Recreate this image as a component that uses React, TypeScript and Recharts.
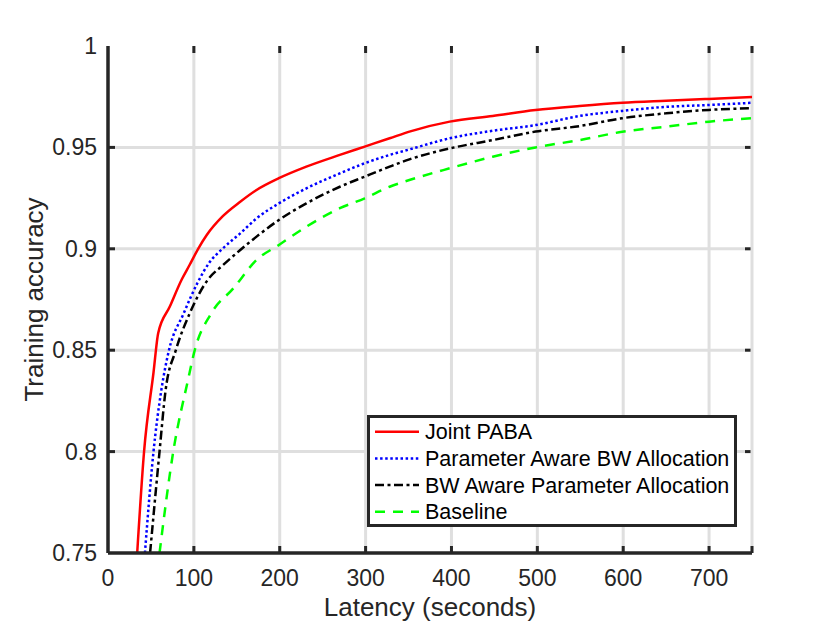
import { LineChart, Line, XAxis, YAxis, CartesianGrid, Legend, Label } from 'recharts';

// latency (s) / training accuracy
const jointX = [34, 42, 53, 58.5, 72, 86, 95, 105, 115, 134, 154, 173, 199, 231, 270, 299, 328, 351, 398, 448, 498, 549, 599, 650, 700, 750];
const jointY = [0.75, 0.8, 0.839, 0.8585, 0.8715, 0.885, 0.892, 0.9, 0.9068, 0.9162, 0.9232, 0.929, 0.9348, 0.9405, 0.9463, 0.9504, 0.9545, 0.9578, 0.9627, 0.9655, 0.9684, 0.9704, 0.972, 0.973, 0.9739, 0.9748];

const paramAwareX = [43, 53, 62, 71, 88, 104, 118, 134, 154, 173, 199, 231, 270, 299, 328, 351, 398, 448, 498, 549, 599, 650, 700, 750];
const paramAwareY = [0.75, 0.8, 0.83, 0.85, 0.868, 0.883, 0.8932, 0.9003, 0.9076, 0.915, 0.9224, 0.9298, 0.9372, 0.9422, 0.9463, 0.949, 0.9545, 0.9582, 0.961, 0.9655, 0.968, 0.97, 0.9709, 0.972];

const bwAwareX = [49, 60, 67, 79, 95, 116, 134, 154, 173, 199, 231, 270, 299, 328, 351, 398, 448, 498, 549, 599, 650, 700, 750];
const bwAwareY = [0.75, 0.8, 0.83, 0.85, 0.868, 0.8846, 0.892, 0.8994, 0.906, 0.9142, 0.9224, 0.9306, 0.9356, 0.9405, 0.9441, 0.9495, 0.9536, 0.9578, 0.9605, 0.9644, 0.9668, 0.9685, 0.9693];

const baselineX = [60, 76, 93, 101, 120, 146, 173, 199, 231, 270, 299, 328, 351, 398, 448, 498, 549, 599, 650, 700, 750];
const baselineY = [0.75, 0.8, 0.835, 0.85, 0.868, 0.8805, 0.8945, 0.9019, 0.9109, 0.92, 0.9249, 0.9306, 0.9339, 0.9397, 0.9454, 0.95, 0.9536, 0.9577, 0.9602, 0.9627, 0.9644];

const xTicks = [0, 100, 200, 300, 400, 500, 600, 700];
const yTicks = [0.75, 0.8, 0.85, 0.9, 0.95, 1];

const toPoints = (xs: number[], ys: number[]) => xs.map((x, i) => ({ x, y: ys[i] }));

const series = [
  { name: 'Joint PABA', data: toPoints(jointX, jointY), color: '#ff0000', dash: undefined },
  { name: 'Parameter Aware BW Allocation', data: toPoints(paramAwareX, paramAwareY), color: '#0000ff', dash: '2.5 2.6' },
  { name: 'BW Aware Parameter Allocation', data: toPoints(bwAwareX, bwAwareY), color: '#000000', dash: '9 3.5 3 3.5' },
  { name: 'Baseline', data: toPoints(baselineX, baselineY), color: '#00ff00', dash: '10 8' },
];

const FONT = '"Liberation Sans", Arial, Helvetica, sans-serif';
const AXIS = '#262626';
const GRID = '#dfdfdf';
const TICK_LEN = 7;

// the grid sits above the axes here, so the inward tick stubs are drawn with each grid line
const HGridLine = (props: any) => {
  const { x1, x2, y1, index } = props;
  if (index === 0 || index === yTicks.length - 1) return <g />;
  return (
    <g>
      <line x1={x1} x2={x2} y1={y1} y2={y1} stroke={GRID} strokeWidth={3} />
      <line x1={x1} x2={x1 + TICK_LEN} y1={y1} y2={y1} stroke={AXIS} strokeWidth={3} />
      <line x1={x2 - TICK_LEN} x2={x2} y1={y1} y2={y1} stroke={AXIS} strokeWidth={3} />
    </g>
  );
};

const VGridLine = (props: any) => {
  const { x1, y1, y2, index } = props;
  if (index === 0) return <g />;
  return (
    <g>
      <line x1={x1} x2={x1} y1={y1} y2={y2} stroke={GRID} strokeWidth={3} />
      <line x1={x1} x2={x1} y1={y1} y2={y1 + TICK_LEN} stroke={AXIS} strokeWidth={3} />
      <line x1={x1} x2={x1} y1={y2 - TICK_LEN} y2={y2} stroke={AXIS} strokeWidth={3} />
    </g>
  );
};

const BottomTick = ({ x, y, payload }: any) => (
  <text x={x} y={y + 33} textAnchor="middle" fontSize={23} fontFamily={FONT} fill={AXIS}>
    {payload.value}
  </text>
);

const LeftTick = ({ x, y, payload }: any) => (
  <text x={x - 11} y={y + 8} textAnchor="end" fontSize={23} fontFamily={FONT} fill={AXIS}>
    {String(payload.value)}
  </text>
);

const LegendBox = () => (
  <div
    style={{
      width: 370,
      height: 112,
      boxSizing: 'border-box',
      border: `3px solid ${AXIS}`,
      background: '#fff',
    }}
  >
    <svg width={364} height={106} style={{ display: 'block' }}>
      {series.map((s, i) => {
        const cy = 13.7 + i * 26.7;
        return (
          <g key={s.name}>
            <line x1={5} x2={49} y1={cy} y2={cy} stroke={s.color} strokeWidth={2.5} strokeDasharray={s.dash} />
            <text x={55} y={cy + 7.5} fontSize={21.5} fontFamily={FONT} fill="#000">
              {s.name}
            </text>
          </g>
        );
      })}
    </svg>
  </div>
);

const axisLine = { stroke: AXIS, strokeWidth: 3.5 };

export default function App() {
  return (
    <div style={{ position: 'absolute', left: 0, top: 0, width: 830, height: 623, background: '#fff' }}>
      <LineChart width={830} height={623} margin={{ top: 46, right: 78, bottom: 0, left: 0 }}>
        <CartesianGrid horizontal={HGridLine} vertical={VGridLine} />
        <XAxis
          dataKey="x"
          type="number"
          domain={[0, 750]}
          ticks={xTicks}
          interval={0}
          allowDataOverflow
          height={70}
          tickSize={0}
          tickMargin={0}
          tickLine={false}
          tick={<BottomTick />}
          axisLine={axisLine}
        >
          <Label
            content={({ viewBox }: any) => (
              <text
                x={viewBox.x + viewBox.width / 2}
                y={viewBox.y + 63}
                textAnchor="middle"
                fontSize={26}
                fontFamily={FONT}
                fill={AXIS}
              >
                Latency (seconds)
              </text>
            )}
          />
        </XAxis>
        <XAxis
          xAxisId="top"
          orientation="top"
          type="number"
          domain={[0, 750]}
          ticks={xTicks}
          height={0}
          tick={false}
          tickLine={false}
          axisLine={axisLine}
        />
        <YAxis
          type="number"
          domain={[0.75, 1]}
          ticks={yTicks}
          interval={0}
          allowDataOverflow
          width={108}
          tickSize={0}
          tickMargin={0}
          tickLine={false}
          tick={<LeftTick />}
          axisLine={axisLine}
        >
          <Label
            content={({ viewBox }: any) => {
              const tx = viewBox.x + 43;
              const ty = viewBox.y + viewBox.height / 2;
              return (
                <text
                  x={tx}
                  y={ty}
                  transform={`rotate(-90 ${tx} ${ty})`}
                  textAnchor="middle"
                  fontSize={26}
                  fontFamily={FONT}
                  fill={AXIS}
                >
                  Training accuracy
                </text>
              );
            }}
          />
        </YAxis>
        <YAxis
          yAxisId="right"
          orientation="right"
          type="number"
          domain={[0.75, 1]}
          ticks={yTicks}
          width={0}
          tick={false}
          tickLine={false}
          axisLine={axisLine}
        />
        {series.map((s) => (
          <Line
            key={s.name}
            data={s.data}
            dataKey="y"
            name={s.name}
            type="monotone"
            stroke={s.color}
            strokeWidth={2.5}
            strokeDasharray={s.dash}
            dot={false}
            activeDot={false}
            isAnimationActive={false}
          />
        ))}
        <Legend
          layout="horizontal"
          verticalAlign="middle"
          content={() => <LegendBox />}
          wrapperStyle={{ left: 367, top: 415, width: 370, height: 112 }}
        />
      </LineChart>
    </div>
  );
}
